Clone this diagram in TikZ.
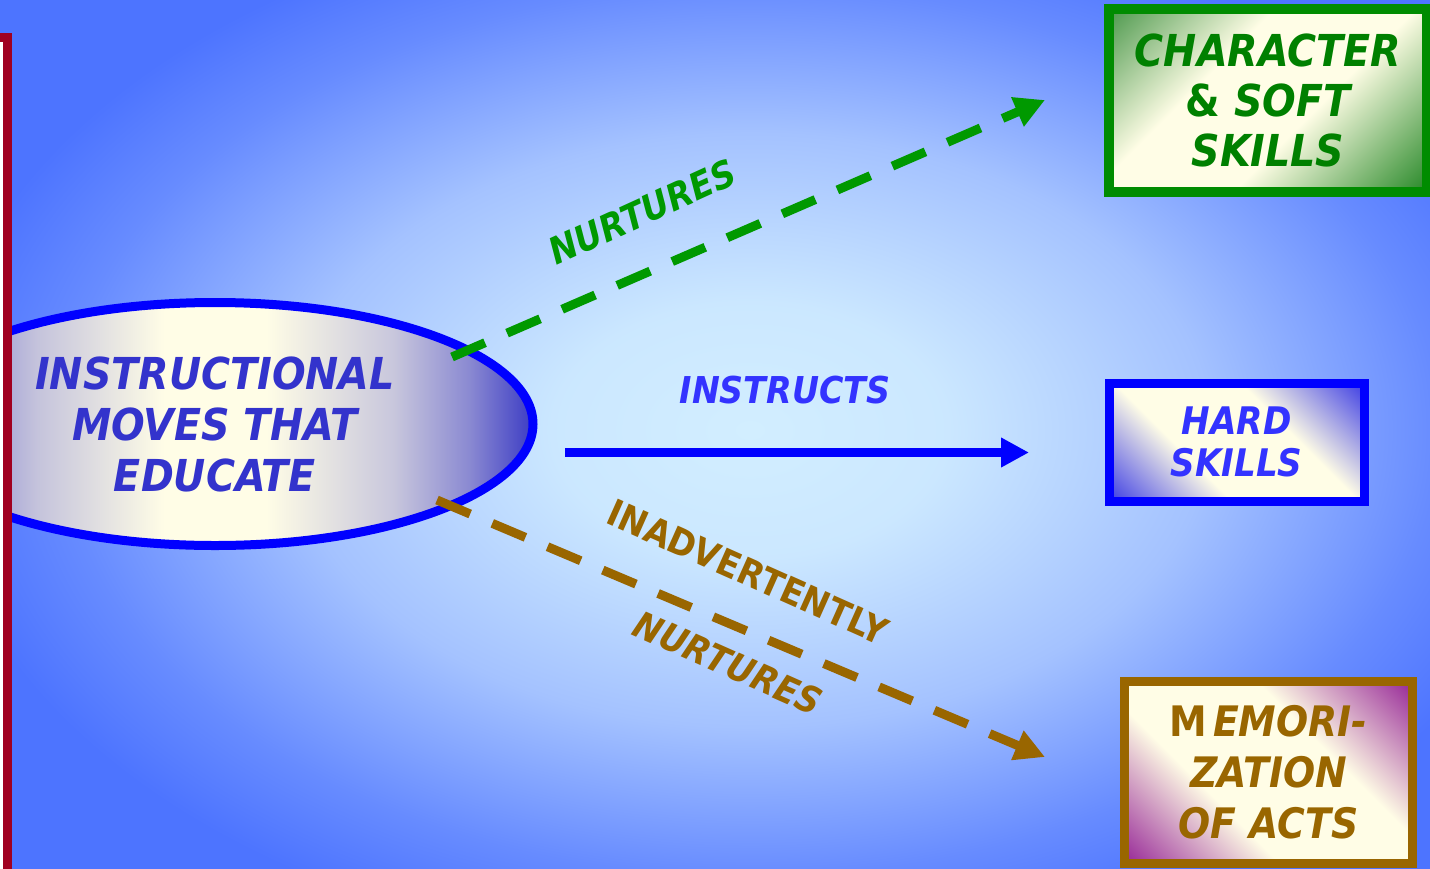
\documentclass[tikz,border=0pt]{standalone}
\usepackage{fontspec}
\usetikzlibrary{shapes.geometric,arrows.meta}
\newfontfamily\tahoma{DejaVu Sans}[FakeStretch=0.9]

\definecolor{bgdark}{HTML}{4D74FF}
\definecolor{bgmid}{HTML}{A4C2FF}
\definecolor{bglight}{HTML}{D2EEFF}
\definecolor{cream}{HTML}{FFFDE6}
\definecolor{ellblue}{HTML}{3C3CC4}
\definecolor{elltext}{HTML}{3333CC}
\definecolor{framered}{HTML}{A00020}
\definecolor{nurgreen}{HTML}{009900}
\definecolor{softgreen}{HTML}{008C00}
\definecolor{softtext}{HTML}{008000}
\definecolor{gcorner}{HTML}{4F9A4F}
\definecolor{gcorner2}{HTML}{2A8A2A}
\definecolor{hardblue}{HTML}{0000FF}
\definecolor{hardtext}{HTML}{3333FF}
\definecolor{hcorner}{HTML}{4040E4}
\definecolor{inadbrown}{HTML}{996600}
\definecolor{mcorner}{HTML}{982A98}

\pgfdeclareradialshading{bgshade}{\pgfpoint{0bp}{0bp}}{color(0bp)=(bglight); color(6bp)=(bglight!85!bgmid); color(14bp)=(bgmid); color(21bp)=(bgdark!70!bgmid); color(25bp)=(bgdark); color(50bp)=(bgdark)}
\pgfdeclarehorizontalshading{ellshade}{100bp}{color(0bp)=(ellblue); color(25bp)=(ellblue); color(30bp)=(ellblue!60!cream); color(36bp)=(ellblue!30!cream); color(46bp)=(cream); color(54bp)=(cream); color(64bp)=(ellblue!28!cream); color(70bp)=(ellblue!60!cream); color(75bp)=(ellblue); color(100bp)=(ellblue)}
\pgfdeclarehorizontalshading{greenshade}{100bp}{color(0bp)=(gcorner); color(15bp)=(gcorner); color(38bp)=(cream); color(58bp)=(cream); color(85bp)=(gcorner2); color(100bp)=(gcorner2)}
\pgfdeclarehorizontalshading{hardshade}{100bp}{color(0bp)=(hcorner); color(15bp)=(hcorner); color(38bp)=(cream); color(62bp)=(cream); color(85bp)=(hcorner); color(100bp)=(hcorner)}
\pgfdeclarehorizontalshading{memoshade}{100bp}{color(0bp)=(mcorner); color(15bp)=(mcorner); color(38bp)=(cream); color(62bp)=(cream); color(85bp)=(mcorner); color(100bp)=(mcorner)}

\newcommand\boxfont[2]{\tahoma\bfseries\itshape\fontsize{#1}{#2}\selectfont}

\tikzset{
  movesnode/.style={ellipse, draw=hardblue, line width=9pt, shade, shading=ellshade,
    minimum width=636pt, minimum height=243pt, inner sep=0pt, align=center, text=elltext,
    font=\boxfont{44}{51}},
  skillbox/.style={rectangle, shade, inner sep=0pt, align=center},
  arrowlbl/.style={inner sep=0pt, font=\boxfont{37}{40}},
  dashedarrow/.style={line width=9pt, dash pattern=on 36pt off 24pt,
    -{Triangle[length=30pt,width=30pt]}},
}

\begin{document}
\begin{tikzpicture}[x=1pt,y=-1pt]
  \useasboundingbox (0,0) rectangle (1430,868);
  \clip (0,0) rectangle (1430,868);
  \shade[shading=bgshade] (-70,-100) rectangle (1570,960);

  \node[movesnode] (moves) at (215,424) {INSTRUCTIONAL\\MOVES THAT\\EDUCATE};
  \draw[draw=framered, fill=white, line width=9pt] (-100,37.5) rectangle (7.5,980);

  \node[skillbox, draw=softgreen, line width=10pt, shading=greenshade, shading angle=-45,
    minimum width=318pt, minimum height=183pt, text=softtext,
    font=\boxfont{44}{50}] (soft) at (1268,100.5)
    {CHARACTER\\{\upshape\&} SOFT\\SKILLS};
  \node[skillbox, draw=hardblue, line width=9pt, shading=hardshade, shading angle=45,
    minimum width=255pt, minimum height=118pt, text=hardtext,
    font=\boxfont{38}{42}] (hard) at (1236.5,442)
    {HARD\\SKILLS};
  \node[skillbox, draw=inadbrown, line width=9pt, shading=memoshade, shading angle=45,
    minimum width=288pt, minimum height=182.5pt, text=inadbrown,
    font=\boxfont{42}{51}] (memo) at (1268.5,772.5)
    {{\upshape M}\hspace{6pt}EMORI-\\ZATION\\OF ACTS};

  \coordinate (gfrom) at (452,357);
  \coordinate (gto) at (1045,100);
  \coordinate (bfrom) at (565,452.5);
  \coordinate (bto) at (1029,452.5);
  \coordinate (mfrom) at (437,500);
  \coordinate (mto) at (1045,757);

  \draw[dashedarrow, draw=nurgreen] (gfrom) -- (gto);
  \draw[line width=9pt, draw=hardblue, -{Triangle[length=28pt,width=28pt]}] (bfrom) -- (bto);
  \draw[dashedarrow, draw=inadbrown] (mfrom) -- (mto);

  \node[arrowlbl, text=nurgreen, rotate=24.5] (nurtlbl) at (642,212) {NURTURES};
  \node[arrowlbl, text=hardtext] (instrlbl) at (785,390) {INSTRUCTS};
  \node[arrowlbl, text=inadbrown, rotate=-24, font=\boxfont{37}{40}\upshape] (inadlbl) at (748,572) {INADVERTENTLY};
  \node[arrowlbl, text=inadbrown, rotate=-24] (nurtlbl2) at (728,663) {NURTURES};
\end{tikzpicture}
\end{document}
